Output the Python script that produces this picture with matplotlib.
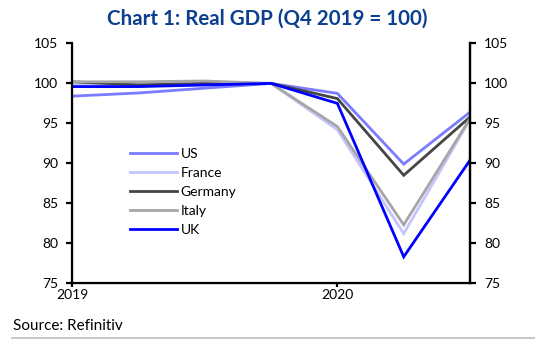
import matplotlib
matplotlib.use("Agg")
import matplotlib.pyplot as plt

# quarterly real GDP, Q4 2019 = 100 (Q1 2019 .. Q3 2020)
quarters = ["2019Q1", "2019Q2", "2019Q3", "2019Q4", "2020Q1", "2020Q2", "2020Q3"]
us      = [98.4, 98.8, 99.4, 100.0, 98.75, 89.9, 96.4]
france  = [99.8, 99.9, 100.1, 100.0, 94.2, 81.2, 95.5]
germany = [100.2, 99.8, 100.0, 100.0, 98.1, 88.5, 95.8]
italy   = [100.2, 100.2, 100.3, 100.0, 94.6, 82.3, 95.6]
uk      = [99.6, 99.6, 99.8, 100.0, 97.5, 78.3, 90.4]

year_ticks = [0, 4]
year_labels = ["2019", "2020"]
y_ticks = [75, 80, 85, 90, 95, 100, 105]

SERIES = [
    ("US", us, "#7b7bff"),
    ("France", france, "#c4c4ff"),
    ("Germany", germany, "#454545"),
    ("Italy", italy, "#a6a6a6"),
    ("UK", uk, "#0000ff"),
]

plt.rcParams["font.family"] = ["Lato", "DejaVu Sans"]

fig = plt.figure(figsize=(5.35, 3.42), dpi=100, facecolor="white")
ax = fig.add_axes([0.1346, 0.172, 0.744, 0.701])

x = list(range(len(quarters)))
for name, vals, col in SERIES:
    ax.plot(x, vals, color=col, lw=2.0, label=name, solid_joinstyle="miter")

ax.set_xlim(0, len(quarters) - 1)
ax.set_ylim(75, 105)
ax.set_yticks(y_ticks)
ax.set_xticks(year_ticks)
ax.set_xticklabels(year_labels)

ax.spines["top"].set_visible(False)
for s in ("left", "right", "bottom"):
    ax.spines[s].set_linewidth(1.6)
ax.tick_params(axis="y", direction="out", length=4, width=1.6, labelsize=10, pad=6)
ax.tick_params(axis="x", direction="out", length=3, width=1.6, labelsize=10, pad=1)

ax2 = ax.twinx()
ax2.set_ylim(75, 105)
ax2.set_yticks(y_ticks)
ax2.spines["top"].set_visible(False)
ax2.spines["right"].set_linewidth(1.6)
ax2.tick_params(axis="y", direction="out", length=4, width=1.6, labelsize=10, pad=6)

ax.legend(loc="upper left", bbox_to_anchor=(0.128, 0.593), frameon=False,
          fontsize=10, handlelength=3.4, handletextpad=0.25,
          labelspacing=0.5, borderpad=0)

fig.text(0.5, 0.945, "Chart 1: Real GDP (Q4 2019 = 100)", ha="center", va="center",
         fontsize=14.8, fontweight="bold", color="#0b3f8f")
fig.text(0.024, 0.048, "Source: Refinitiv", ha="left", va="center", fontsize=11)
fig.add_artist(plt.Line2D([0.022, 1.0], [0.012, 0.012], color="#bdbdbd", lw=1.2))

fig.savefig("out.png", dpi=100, facecolor="white")
